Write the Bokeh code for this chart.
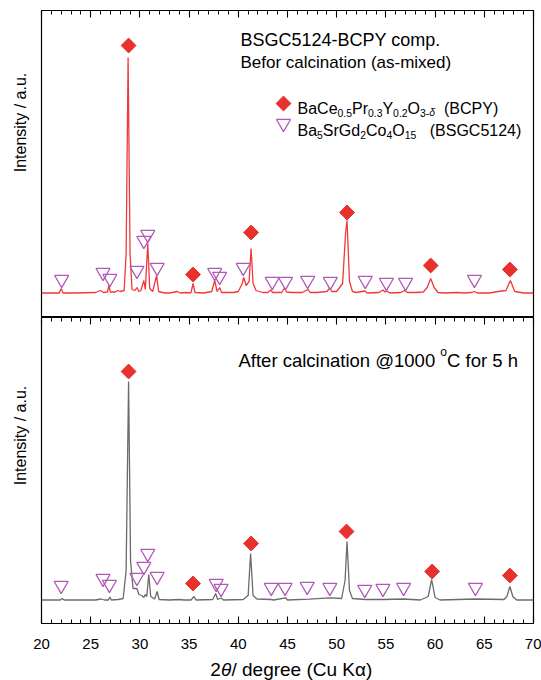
import numpy as np
from bokeh.plotting import figure
from bokeh.models import Range1d, LinearAxis, Label, FixedTicker
from bokeh.layouts import column, row
from bokeh.embed import file_html
from bokeh.resources import INLINE

FONT = "Liberation Sans"

# ---------------- data ----------------
# 2theta (deg) / intensity (a.u.) of the as-mixed pattern
top_x = [20.0, 21.0, 21.8, 22.0, 22.2, 23.5, 25.5, 26.0, 26.3, 26.7, 26.85, 27.0, 27.5, 27.75, 28.0,
         28.4, 28.6, 28.8, 29.0, 29.2, 29.5, 29.7, 29.9, 30.1, 30.4, 30.55, 30.8, 31.0, 31.3, 31.7,
         31.9, 32.5, 33.0, 33.8, 34.1, 34.7, 35.0, 35.2, 35.4, 35.6, 36.5, 37.3, 37.6, 37.85, 38.1,
         38.3, 39.5, 40.0, 40.4, 40.55, 40.8, 41.1, 41.3, 41.5, 41.8, 42.5, 43.0, 43.3, 43.5, 44.4,
         44.7, 44.9, 45.5, 46.5, 47.1, 47.3, 48.0, 49.0, 49.3, 49.5, 50.0, 50.6, 50.9, 51.05, 51.3,
         51.6, 52.0, 52.85, 53.1, 54.3, 54.7, 54.9, 55.1, 55.4, 56.5, 56.9, 57.2, 58.0, 58.8, 59.2,
         59.55, 59.9, 60.3, 61.0, 62.25, 63.0, 63.7, 64.0, 64.3, 65.5, 66.4, 67.2, 67.65, 68.1,
         69.0, 70.0]
top_y = [0.5, 0.5, 0.5, 5, 0.5, 0.5, 1, 3, 1, 1.5, 8, 1.5, 1.5, 3, 2,
         3, 40, 236, 40, 4, 3, 6, 2, 3, 13, 4, 50, 5, 2, 18,
         2, 0.5, 0.5, 2, 0.5, 1, 0.5, 1, 10, 1, 0.5, 2, 13, 2, 6,
         1, 1, 2, 10, 16, 8, 12, 45, 10, 3, 1, 1, 3.5, 1, 1,
         5.5, 1.5, 1, 1, 4, 1, 1, 2, 5.5, 2, 2, 10, 60, 73, 12,
         2, 1, 2.5, 0.5, 1, 3.5, 1.5, 2.5, 0.5, 1, 3, 1, 1, 1.5, 6,
         15, 6, 1, 0.5, 1, 0.5, 1, 2, 0.5, 0.5, 2, 3, 13, 2,
         0.5, 0.5]

# 2theta (deg) / intensity (a.u.) after calcination at 1000 C
bot_x = [20.0, 21.5, 21.9, 22.1, 22.3, 25.5, 26.05, 26.4, 26.8, 26.95, 27.1, 27.8, 28.3, 28.6, 28.85,
         29.05, 29.3, 29.7, 29.9, 30.2, 30.4, 30.55, 30.7, 30.9, 31.1, 31.5, 31.75, 31.95, 33.0, 33.95,
         34.5, 35.2, 35.5, 35.7, 37.4, 37.7, 37.9, 38.25, 38.5, 40.5, 41.0, 41.25, 41.5, 41.9, 43.3,
         43.6, 44.8, 45.0, 47.2, 49.35, 50.5, 50.85, 51.05, 51.3, 51.6, 52.9, 54.8, 56.8, 58.5, 59.3,
         59.65, 60.0, 60.5, 64.1, 67.0, 67.3, 67.6, 67.9, 68.3, 70.0]
bot_y = [0.5, 0.5, 0.5, 2, 0.5, 0.5, 1.5, 0.5, 0.5, 3.5, 0.5, 1, 2, 30, 219,
         40, 12, 12, 6, 5, 3, 6, 4, 26, 4, 1.5, 9, 1, 0.5, 1,
         0.5, 0.5, 4, 0.5, 1, 7, 1, 2.5, 0.5, 1, 5, 47, 5, 1.5, 1,
         0.5, 2.7, 0.5, 1.3, 2.7, 2, 20, 59, 10, 2, 1, 1, 1.5, 0.5, 4,
         21, 3, 0.5, 1.5, 1, 4, 14, 4, 0.5, 0.5]

# phase markers (2theta, marker height in a.u.)
top_bcpy_x = [28.85, 35.4, 41.3, 51.05, 59.55, 67.6]
top_bcpy_y = [248, 19, 61, 81, 28, 24]
top_bsgc_x = [22.05, 26.25, 26.95, 29.7, 30.4, 30.8, 31.75, 37.6, 38.1, 40.5, 43.45, 44.8,
              47.05, 49.35, 52.9, 55.05, 57.0, 64.0]
top_bsgc_y = [14, 21, 15, 23, 53, 59, 26, 21, 17, 26, 12, 12, 13, 12, 13, 11, 11, 14]

bot_bcpy_x = [28.85, 35.4, 41.3, 51.0, 59.7, 67.6]
bot_bcpy_y = [229, 17, 57, 69, 29, 25]
bot_bsgc_x = [22.0, 26.25, 26.9, 29.7, 30.4, 30.8, 31.75, 37.75, 38.25, 43.35, 44.75,
              47.0, 49.3, 52.85, 54.7, 56.8, 64.1]
bot_bsgc_y = [15, 22, 16, 23, 34, 47, 24, 17, 12, 13, 13, 14, 13, 11, 12, 13, 13]

x_major = [20, 25, 30, 35, 40, 45, 50, 55, 60, 65, 70]
x_minor = list(range(20, 71))

RED_LINE = "#f0393a"
RED_MARK = "#e8302c"
GREY_LINE = "#6b6b6b"
PURPLE = "#b05ab8"

# ---------------- layout helpers ----------------
FL, FR = 41, 533  # frame left / right in page px
SW = 31           # width of the y-title strip
PW = 541 - SW     # width of the panels


def dx(px):
    return 20 + (px - FL) * 50.0 / (FR - FL)


def ident(v):
    return v


def ty(py):
    return 293 - py


def by(py):
    return 600 - py


W = {' ': 278, '(': 333, ')': 333, '-': 333, '.': 278, '@': 1015, '/': 278,
     'A': 667, 'B': 667, 'C': 722, 'G': 778, 'K': 667, 'O': 778, 'P': 667, 'S': 667, 'Y': 667,
     'a': 556, 'c': 500, 'd': 556, 'e': 556, 'f': 278, 'g': 556, 'h': 556, 'i': 222, 'l': 222,
     'm': 833, 'n': 556, 'o': 556, 'p': 556, 'r': 333, 's': 500, 't': 278, 'u': 556, 'x': 500,
     'y': 500, 'δ': 556, 'θ': 556, 'α': 578}


def tw(txt, fs):
    return sum(W.get(c, 556) for c in txt) / 1000.0 * fs


def rich(p, px0, py_base, xconv, yconv, segs, size):
    x = xconv(px0)
    y = yconv(py_base)
    off = 0.0
    for txt, kind in segs:
        if kind == "gap":
            off += txt
            continue
        small = kind.startswith("sub") or kind.startswith("sup")
        fs = size * 0.65 if small else size
        if kind.startswith("sub"):
            yo = -0.25 * size
        elif kind.startswith("sup"):
            yo = 0.42 * size
        else:
            yo = 0
        style = "italic" if kind.endswith("i") else "normal"
        p.add_layout(Label(x=x, y=y, x_offset=off, y_offset=yo, text=txt,
                           text_font=FONT, text_font_size=f"{fs:.1f}px",
                           text_baseline="alphabetic", text_align="left",
                           text_font_style=style, text_color="black"))
        off += tw(txt, fs)


def style_axis(ax, show_labels):
    ax.ticker = FixedTicker(ticks=x_major, minor_ticks=x_minor)
    ax.major_tick_in = 7
    ax.major_tick_out = 0
    ax.minor_tick_in = 4
    ax.minor_tick_out = 0
    ax.axis_line_color = "black"
    ax.axis_line_width = 1.2
    ax.major_tick_line_color = "black"
    ax.minor_tick_line_color = "black"
    ax.major_tick_line_width = 1.1
    ax.minor_tick_line_width = 1.0
    if show_labels:
        ax.major_label_text_font = FONT
        ax.major_label_text_font_size = "15px"
        ax.major_label_text_color = "black"
        ax.major_label_standoff = 15
    else:
        ax.major_label_overrides = {t: "" for t in x_major}
        ax.major_label_standoff = 0


def base_fig(height, yr, top_border, bottom_border, xloc):
    p = figure(width=PW, height=height, x_range=Range1d(20, 70), y_range=yr,
               x_axis_location=xloc, y_axis_location=None,
               toolbar_location=None, output_backend="svg",
               min_border_left=FL - SW, min_border_right=541 - FR,
               min_border_top=top_border, min_border_bottom=bottom_border)
    p.xgrid.visible = False
    p.ygrid.visible = False
    p.outline_line_color = "black"
    p.outline_line_width = 1.2
    p.outline_line_alpha = 1.0
    p.background_fill_color = "white"
    p.border_fill_color = "white"
    return p


def blank_fig(width, height, xr, yr):
    p = figure(width=width, height=height, x_range=xr, y_range=yr, title=None,
               x_axis_location=None, y_axis_location=None,
               toolbar_location=None, output_backend="svg",
               min_border=0)
    p.xgrid.visible = False
    p.ygrid.visible = False
    p.outline_line_color = None
    p.background_fill_color = "white"
    p.border_fill_color = "white"
    return p


# ---------------- top panel ----------------
p1 = base_fig(317, Range1d(-24, 283), 10, 0, "above")
style_axis(p1.xaxis[0], False)
p1.line(top_x, top_y, line_color=RED_LINE, line_width=1.3)
p1.scatter(top_bcpy_x, top_bcpy_y, marker="square", angle=np.pi / 4, size=10.5,
           fill_color=RED_MARK, line_color=RED_MARK)
p1.scatter(top_bsgc_x, top_bsgc_y, marker="inverted_triangle", size=14,
           fill_color=None, line_color=PURPLE, line_width=1.3)

rich(p1, 240, 39.5, dx, ty, [("BSGC5124-BCPY comp.", "n")], 18)
rich(p1, 240, 61.7, dx, ty, [("Befor calcination (as-mixed)", "n")], 17)

# legend
p1.scatter([dx(283)], [ty(103)], marker="square", angle=np.pi / 4, size=10.5,
           fill_color=RED_MARK, line_color=RED_MARK)
p1.scatter([dx(283)], [ty(123)], marker="inverted_triangle", size=14,
           fill_color=None, line_color=PURPLE, line_width=1.3)
rich(p1, 297, 108, dx, ty, [("BaCe", "n"), ("0.5", "sub"), ("Pr", "n"), ("0.3", "sub"),
                             ("Y", "n"), ("0.2", "sub"), ("O", "n"), ("3-", "sub"),
                             ("δ", "subi"), (9.0, "gap"), ("(BCPY)", "n")], 16)
rich(p1, 297, 130, dx, ty, [("Ba", "n"), ("5", "sub"), ("SrGd", "n"), ("2", "sub"),
                             ("Co", "n"), ("4", "sub"), ("O", "n"), ("15", "sub"),
                             (13.5, "gap"), ("(BSGC5124)", "n")], 16)

# ---------------- bottom panel ----------------
p2 = base_fig(339, Range1d(-23, 283), 0, 33, "below")
style_axis(p2.xaxis[0], True)
ax_top = LinearAxis()
style_axis(ax_top, False)
p2.add_layout(ax_top, "above")
p2.line(bot_x, bot_y, line_color=GREY_LINE, line_width=1.3)
p2.scatter(bot_bcpy_x, bot_bcpy_y, marker="square", angle=np.pi / 4, size=10.5,
           fill_color=RED_MARK, line_color=RED_MARK)
p2.scatter(bot_bsgc_x, bot_bsgc_y, marker="inverted_triangle", size=14,
           fill_color=None, line_color=PURPLE, line_width=1.3)

rich(p2, 238, 359.5, dx, by, [("After calcination @1000 ", "n"), ("o", "sup"),
                              ("C for 5 h", "n")], 18.5)

# ---------------- x-axis title strip (page px coordinates) ----------------
px_lab = blank_fig(PW, 24, Range1d(SW, 541), Range1d(680, 656))
rich(px_lab, 206, 669, ident, ident, [("2", "n"), ("θ", "i"), ("/ degree (Cu Kα)", "n")], 19)

# ---------------- y-axis title strip (page px coordinates) ----------------
py_lab = blank_fig(SW, 680, Range1d(0, SW), Range1d(680, 0))
for cy in [122, 435]:
    py_lab.add_layout(Label(x=19.5, y=cy, text="Intensity / a.u.", angle=np.pi / 2,
                            text_align="center", text_baseline="middle", text_font=FONT,
                            text_font_size="16px", text_color="black"))

layout = row(py_lab, column(p1, p2, px_lab, spacing=0), spacing=0)
open("out.html", "w").write(file_html(layout, INLINE))
